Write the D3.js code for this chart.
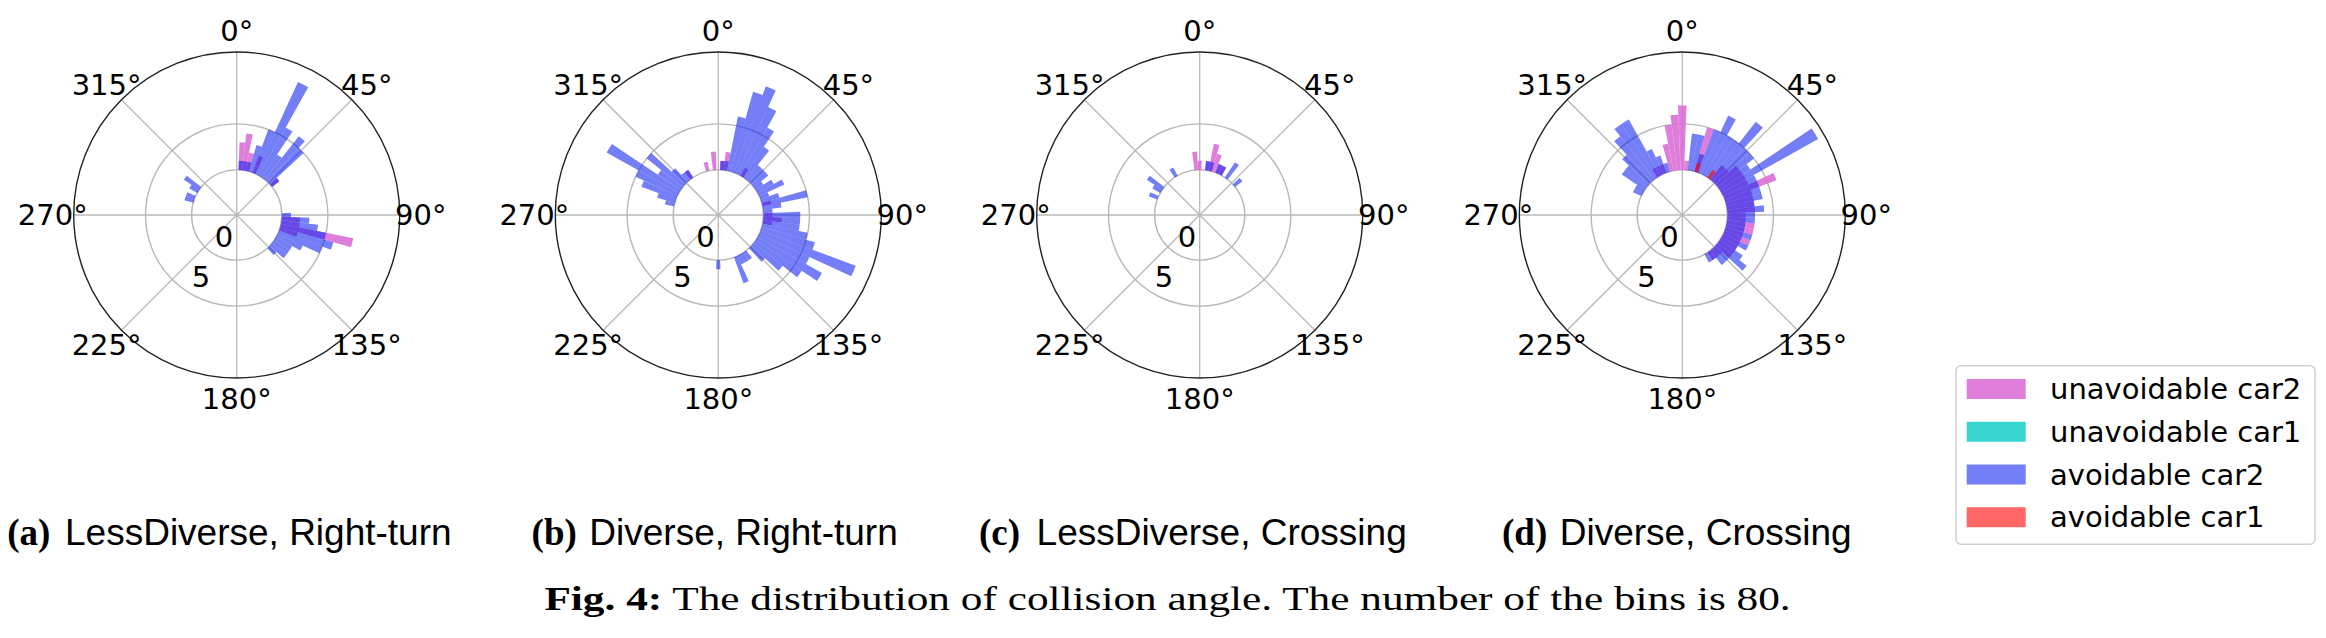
<!DOCTYPE html>
<html>
<head>
<meta charset="utf-8">
<script src="https://cdn.jsdelivr.net/npm/d3@7"></script>
<style>
  body { margin: 0; background: #fff; }
  text { white-space: pre; }
</style>
</head>
<body>
<svg id="chart"></svg>
<script>
// histogram settings
const binCount = 80;
const angleTicks = [0, 45, 90, 135, 180, 225, 270, 315];
const radialTicks = [0, 5];
const seriesNames = ["unavoidable car2", "unavoidable car1", "avoidable car2", "avoidable car1"];

// counts per bin, as [bin index, count]; bin k is centred on k * 4.5 degrees
// (a) LessDiverse, Right-turn
const lessRightUnavoidCar2 = [[1,3],[2,4],[3,2],[5,2],[11,1],[21,2],[22,2],[23,8],[24,2]];
const lessRightUnavoidCar1 = [];
const lessRightAvoidCar2 = [[1,1],[2,1],[3,1],[4,3],[5,5],[6,11],[7,6],[8,3],[9,6],[10,5],[11,1],
  [20,1],[21,3],[22,4],[23,5],[24,6],[25,5],[26,3],[27,2],[28,2],[29,2],[30,1],
  [64,1],[65,1],[67,1],[68,2]];
const lessRightAvoidCar1 = [];

// (b) Diverse, Right-turn
const divRightUnavoidCar2 = [[1,1],[2,2],[7,1],[17,1],[20,1],[21,2],[22,1],[72,1],[77,1],[79,2]];
const divRightUnavoidCar1 = [];
const divRightAvoidCar2 = [[1,1],[2,1],[3,6],[4,9],[5,10],[6,8],[7,6],[8,4],[9,2],[10,2],[11,2],[12,1],
  [13,2],[14,3],[15,1],[16,2],[17,5],[18,2],[19,1],[20,4],[21,4],[22,4],[23,5],[24,6],[25,11],
  [26,6],[27,8],[28,6],[29,4],[30,2],[32,1],[33,1],[34,1],[35,3],[40,1],
  [63,1],[64,2],[65,4],[66,5],[67,9],[68,3],[69,5],[70,2],[71,1],[72,1]];
const divRightAvoidCar1 = [];

// (c) LessDiverse, Crossing
const lessCrossUnavoidCar2 = [[79,2],[0,1],[2,1],[3,3],[4,2],[5,1],[6,1]];
const lessCrossUnavoidCar1 = [];
const lessCrossAvoidCar2 = [[2,1],[3,1],[5,1],[6,1],[8,2],[11,1],[65,1],[67,1],[68,2],[73,1]];
const lessCrossAvoidCar1 = [];

// (d) Diverse, Crossing
const divCrossUnavoidCar2 = [[77,3],[78,5],[79,6],[0,7],[1,1],[4,5],[9,2],[10,2],[11,3],[12,3],[13,3],
  [14,3],[15,6],[16,3],[17,3],[18,3],[19,3],[20,2],[21,2],[22,3],[23,3],[24,2],[25,3],[26,2],
  [27,2],[28,2],[29,2],[30,1],[31,1],[32,1],[73,1],[74,1],[75,1]];
const divCrossUnavoidCar1 = [];
const divCrossAvoidCar2 = [[2,4],[3,4],[4,2],[5,5],[6,7],[7,5],[8,5],[9,8],[10,5],[11,5],[12,4],[13,12],
  [14,4],[15,4],[16,4],[17,4],[18,3],[19,4],[20,3],[21,3],[22,2],[23,2],[24,3],[25,2],[26,3],
  [27,2],[28,3],[29,4],[30,2],[31,2],[32,1],[33,1],
  [66,1],[67,1],[68,3],[69,3],[70,4],[71,6],[72,7],[73,7],[74,3],[75,2],[76,1]];
const divCrossAvoidCar1 = [[4,1],[8,1]];

const panelLabels = ["(a)", "(b)", "(c)", "(d)"];
const panelTitles = ["LessDiverse, Right-turn", "Diverse, Right-turn", "LessDiverse, Crossing", "Diverse, Crossing"];
const captionBold = "Fig. 4:";
const captionText = " The distribution of collision angle. The number of the bins is 80.";

const panels = [
  [lessRightUnavoidCar2, lessRightUnavoidCar1, lessRightAvoidCar2, lessRightAvoidCar1],
  [divRightUnavoidCar2, divRightUnavoidCar1, divRightAvoidCar2, divRightAvoidCar1],
  [lessCrossUnavoidCar2, lessCrossUnavoidCar1, lessCrossAvoidCar2, lessCrossAvoidCar1],
  [divCrossUnavoidCar2, divCrossUnavoidCar1, divCrossAvoidCar2, divCrossAvoidCar1]
];

// ---- layout / style ----
const width = 2326, height = 638;
const centersX = [236.7, 718.3, 1199.7, 1682.3];
const centerY = 215;
const outerR = 163;
const colors = ["#DA70D6", "#2ED3CE", "#1020F0", "#FF0000"];
const opacities = [0.9, 0.95, 0.58, 0.6];
const tickFont = "DejaVu Sans";

const svg = d3.select("#chart").attr("width", width).attr("height", height);

const theta = d3.scaleLinear().domain([0, binCount]).range([0, 2 * Math.PI]);
const rScale = d3.scaleLinear().domain([-4.9, 12.8]).range([0, outerR]);
const deg = d => d * Math.PI / 180;

const arc = d3.arc()
  .innerRadius(rScale(0))
  .outerRadius(d => rScale(d.count))
  .startAngle(d => theta(d.bin - 0.5))
  .endAngle(d => theta(d.bin + 0.5));

panels.forEach((series, p) => {
  const g = svg.append("g").attr("transform", `translate(${centersX[p]},${centerY})`);

  // radial grid circles
  g.selectAll(".ring").data(radialTicks).enter().append("circle")
    .attr("r", d => rScale(d))
    .attr("fill", "none").attr("stroke", "#b8b8b8").attr("stroke-width", 1.4);

  // spokes
  g.selectAll(".spoke").data(angleTicks).enter().append("line")
    .attr("x1", 0).attr("y1", 0)
    .attr("x2", d => outerR * Math.sin(deg(d)))
    .attr("y2", d => -outerR * Math.cos(deg(d)))
    .attr("stroke", "#b8b8b8").attr("stroke-width", 1.3);

  // bars, drawn in legend order so later series sit on top
  series.forEach((pairs, s) => {
    g.append("g").selectAll("path")
      .data(pairs.map(([bin, count]) => ({ bin, count })))
      .enter().append("path")
      .attr("d", arc)
      .attr("fill", colors[s])
      .attr("fill-opacity", opacities[s]);
  });

  // outer frame
  g.append("circle").attr("r", outerR)
    .attr("fill", "none").attr("stroke", "#222").attr("stroke-width", 1.4);

  // angle labels
  g.selectAll(".alabel").data(angleTicks).enter().append("text")
    .attr("x", d => 184 * Math.sin(deg(d)))
    .attr("y", d => -184 * Math.cos(deg(d)))
    .attr("text-anchor", "middle")
    .attr("dominant-baseline", "central")
    .attr("font-family", tickFont).attr("font-size", 29)
    .text(d => d + "\u00b0");

  // radial labels
  g.selectAll(".rlabel").data(radialTicks).enter().append("text")
    .attr("x", d => (rScale(d) - 19.5) * Math.sin(deg(210)))
    .attr("y", d => -(rScale(d) - 19.5) * Math.cos(deg(210)))
    .attr("text-anchor", "middle")
    .attr("dominant-baseline", "central")
    .attr("font-family", tickFont).attr("font-size", 29)
    .text(d => d);
});

// sub-captions: bold serif label, then the title in sans
const subCaptionX = [7.3, 531.6, 978.9, 1502];
panelTitles.forEach((title, i) => {
  svg.append("text")
    .attr("x", subCaptionX[i]).attr("y", 545)
    .attr("font-family", "Liberation Serif").attr("font-weight", "bold")
    .attr("font-size", 37)
    .text(panelLabels[i]);
  svg.append("text")
    .attr("x", subCaptionX[i] + 57.7).attr("y", 545)
    .attr("font-family", "Liberation Sans")
    .attr("font-size", 37)
    .text(title);
});

// figure caption, fitted to the width it has in the figure
const cap = svg.append("g");
const capText = cap.append("text").attr("font-size", 33).attr("font-family", "Liberation Serif");
capText.append("tspan").attr("font-weight", "bold").text(captionBold);
capText.append("tspan").text(captionText);
const capW = capText.node().getComputedTextLength();
cap.attr("transform", `translate(544.4,610) scale(${(1791 - 544.4) / capW},1)`);

// legend
const legend = svg.append("g").attr("transform", "translate(1956,365.7)");
legend.append("rect")
  .attr("width", 359).attr("height", 178.6)
  .attr("rx", 5).attr("ry", 5)
  .attr("fill", "#fff").attr("stroke", "#d0d0d0").attr("stroke-width", 1.5);

const items = legend.selectAll(".item").data(seriesNames).enter().append("g")
  .attr("transform", (d, i) => `translate(10.7,${13.3 + i * 42.75})`);
items.append("rect")
  .attr("width", 59).attr("height", 20)
  .attr("fill", (d, i) => colors[i])
  .attr("fill-opacity", (d, i) => opacities[i]);
items.append("text")
  .attr("x", 83.3).attr("y", 20)
  .attr("font-family", tickFont).attr("font-size", 29)
  .text(d => d);
</script>
</body>
</html>
